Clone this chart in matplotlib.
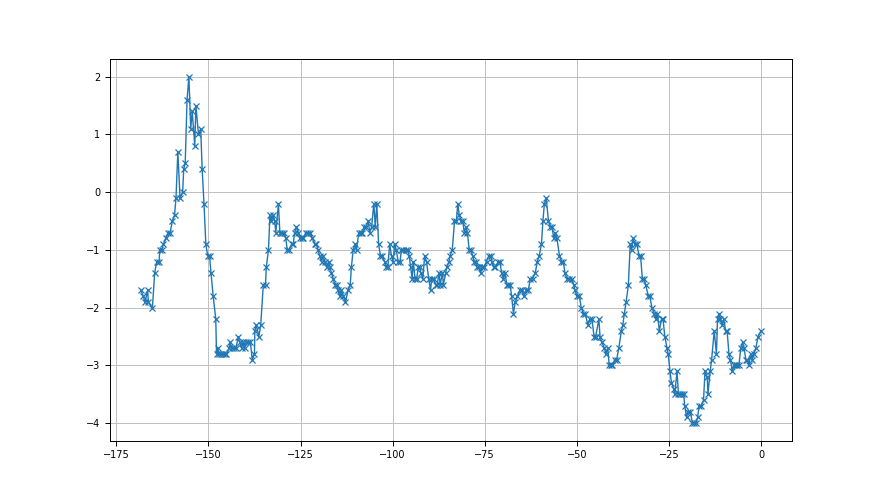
import matplotlib
matplotlib.use("Agg")
import matplotlib.pyplot as plt
import numpy as np

# values
t = [-168.3, -167.7, -167.2, -166.5, -166.3, -165.2, -164.6, -164.0, -163.4, -163.2,
     -162.7, -162.2, -161.6, -160.9, -160.4, -159.8, -159.2, -158.8, -158.3, -157.7,
     -157.0, -156.7, -156.3, -155.8, -155.3, -154.8, -154.4, -153.7, -153.4, -152.7,
     -152.1, -151.7, -151.2, -150.7, -150.2, -149.7, -149.3, -148.7, -148.0, -147.8,
     -147.5, -147.1, -146.6, -146.0, -145.5, -145.1, -144.4, -144.1, -143.7, -143.0,
     -142.5, -141.9, -141.5, -141.0, -140.6, -140.2, -139.7, -139.2, -138.6, -138.1,
     -137.5, -137.4, -137.0, -136.3, -135.8, -135.1, -134.5, -134.3, -133.7, -133.3,
     -132.9, -132.4, -132.0, -131.7, -131.0, -130.6, -130.1, -129.5, -129.0, -128.6,
     -128.1, -127.4, -127.0, -126.6, -126.1, -125.6, -125.2, -124.7, -124.2, -123.6,
     -123.0, -122.3, -121.8, -121.1, -120.7, -120.2, -119.8, -119.3, -118.9, -118.4,
     -117.9, -117.4, -117.0, -116.6, -116.1, -115.7, -115.1, -114.8, -114.3, -113.9,
     -113.4, -112.8, -112.1, -111.5, -111.2, -110.7, -110.2, -109.8, -109.2, -108.7,
     -108.2, -107.7, -107.2, -106.6, -106.2, -105.7, -105.1, -104.7, -104.3, -103.8,
     -103.3, -102.8, -102.2, -101.7, -101.3, -100.8, -100.3, -99.9, -99.4, -99.0,
     -98.5, -98.0, -97.6, -97.1, -96.5, -95.9, -95.5, -95.1, -94.7, -94.4,
     -93.9, -93.5, -93.0, -92.7, -92.3, -91.8, -91.3, -90.8, -90.2, -89.7,
     -89.4, -88.9, -88.3, -87.9, -87.4, -87.1, -86.5, -86.2, -85.6, -85.3,
     -84.7, -84.4, -83.8, -83.2, -82.7, -82.3, -81.9, -81.4, -81.0, -80.5,
     -80.1, -79.7, -79.2, -78.7, -78.3, -77.9, -77.4, -77.0, -76.5, -76.1,
     -75.7, -75.2, -74.5, -73.9, -73.4, -73.0, -72.6, -72.1, -71.3, -70.9,
     -70.4, -69.9, -69.5, -69.0, -68.6, -68.1, -67.7, -67.2, -66.7, -66.1,
     -65.5, -64.9, -64.4, -63.7, -63.2, -62.6, -62.0, -61.3, -60.7, -60.2,
     -59.6, -59.2, -58.8, -58.3, -57.7, -57.2, -56.8, -56.2, -55.9, -55.4,
     -54.7, -54.2, -53.7, -53.2, -52.7, -52.0, -51.4, -50.8, -50.5, -49.9,
     -49.3, -48.8, -48.2, -47.7, -47.0, -46.5, -45.9, -45.3, -44.9, -44.0,
     -43.7, -43.2, -42.5, -42.1, -41.6, -41.2, -40.8, -40.4, -39.7, -39.2,
     -38.6, -37.9, -37.5, -37.1, -36.6, -36.0, -35.5, -35.1, -34.7, -34.2,
     -33.7, -33.1, -32.7, -32.2, -31.8, -31.3, -30.6, -30.2, -29.6, -29.0,
     -28.5, -28.1, -27.6, -27.0, -26.6, -26.1, -25.5, -25.2, -24.7, -24.3,
     -23.7, -23.4, -22.8, -22.4, -21.9, -21.4, -21.0, -20.7, -20.2, -19.9,
     -19.2, -18.6, -18.2, -17.7, -17.2, -16.8, -16.2, -15.6, -15.2, -14.6,
     -14.4, -13.8, -13.4, -12.7, -12.1, -11.8, -11.4, -11.0, -10.5, -10.1,
     -9.6, -9.2, -8.7, -8.3, -7.8, -7.3, -6.9, -6.4, -6.0, -5.5,
     -5.0, -4.6, -4.1, -3.7, -3.3, -2.8, -2.4, -1.9, -1.4, -0.8,
     0.0]

value = [-1.7, -1.8, -1.9, -1.7, -1.9, -2.0, -1.4, -1.2, -1.2, -1.0,
         -1.0, -0.9, -0.8, -0.7, -0.7, -0.5, -0.4, -0.1, 0.7, -0.1,
         0.0, 0.4, 0.5, 1.6, 2.0, 1.1, 1.4, 0.8, 1.5, 1.0,
         1.1, 0.4, -0.2, -0.9, -1.1, -1.1, -1.4, -1.8, -2.2, -2.8,
         -2.7, -2.8, -2.8, -2.8, -2.8, -2.8, -2.7, -2.6, -2.7, -2.7,
         -2.7, -2.5, -2.6, -2.7, -2.6, -2.7, -2.6, -2.6, -2.6, -2.9,
         -2.8, -2.4, -2.3, -2.5, -2.3, -1.6, -1.6, -1.3, -1.0, -0.4,
         -0.5, -0.4, -0.5, -0.7, -0.2, -0.7, -0.7, -0.7, -0.8, -1.0,
         -1.0, -0.9, -0.9, -0.7, -0.6, -0.7, -0.8, -0.8, -0.8, -0.7,
         -0.7, -0.7, -0.8, -0.9, -0.9, -1.0, -1.1, -1.2, -1.1, -1.2,
         -1.3, -1.2, -1.3, -1.4, -1.5, -1.6, -1.6, -1.7, -1.8, -1.7,
         -1.8, -1.9, -1.7, -1.6, -1.3, -1.0, -0.9, -1.0, -0.7, -0.7,
         -0.7, -0.6, -0.6, -0.5, -0.7, -0.6, -0.2, -0.6, -0.2, -0.9,
         -1.1, -1.1, -1.2, -1.3, -1.3, -0.9, -1.1, -1.2, -0.9, -1.0,
         -1.2, -1.2, -1.0, -1.0, -1.0, -1.0, -1.1, -1.3, -1.5, -1.2,
         -1.5, -1.5, -1.3, -1.3, -1.4, -1.5, -1.1, -1.2, -1.5, -1.7,
         -1.5, -1.5, -1.6, -1.6, -1.4, -1.6, -1.4, -1.6, -1.4, -1.3,
         -1.2, -1.1, -1.0, -0.5, -0.5, -0.2, -0.4, -0.5, -0.5, -0.7,
         -0.6, -0.7, -1.0, -1.0, -1.1, -1.2, -1.2, -1.3, -1.3, -1.4,
         -1.3, -1.3, -1.2, -1.1, -1.1, -1.2, -1.3, -1.3, -1.2, -1.2,
         -1.4, -1.5, -1.4, -1.6, -1.6, -1.6, -1.8, -2.1, -1.9, -1.8,
         -1.7, -1.7, -1.8, -1.7, -1.7, -1.5, -1.5, -1.4, -1.2, -1.1,
         -0.9, -0.5, -0.2, -0.1, -0.5, -0.6, -0.6, -0.8, -0.7, -0.8,
         -1.1, -1.2, -1.2, -1.4, -1.5, -1.5, -1.5, -1.6, -1.7, -1.8,
         -1.8, -2.0, -2.1, -2.1, -2.3, -2.2, -2.2, -2.5, -2.5, -2.2,
         -2.5, -2.6, -2.7, -2.8, -2.7, -3.0, -3.0, -3.0, -2.9, -2.9,
         -2.7, -2.4, -2.3, -2.1, -1.9, -1.6, -0.9, -1.0, -0.8, -0.9,
         -0.9, -1.1, -1.1, -1.5, -1.5, -1.6, -1.8, -1.8, -2.0, -2.1,
         -2.2, -2.1, -2.4, -2.2, -2.2, -2.5, -2.7, -2.8, -3.1, -3.3,
         -3.4, -3.5, -3.1, -3.5, -3.5, -3.5, -3.5, -3.7, -3.9, -3.8,
         -3.8, -4.0, -4.0, -4.0, -3.9, -3.7, -3.7, -3.6, -3.1, -3.2,
         -3.5, -3.1, -2.9, -2.4, -2.8, -2.2, -2.1, -2.2, -2.3, -2.2,
         -2.4, -2.4, -2.8, -2.9, -3.1, -3.0, -3.0, -3.0, -3.0, -2.7,
         -2.6, -2.7, -2.9, -2.9, -3.0, -2.8, -2.9, -2.8, -2.7, -2.5,
         -2.4]

fig, ax = plt.subplots(figsize=(8.8, 4.95), dpi=100)
ax.plot(t, value, marker='x', markersize=5, markeredgewidth=0.9,
        linewidth=1.0, color='tab:blue')
ax.set_xticks(np.arange(-175, 1, 25))
ax.grid(True, color='#c0c0c0', linewidth=0.7)
ax.tick_params(labelsize=7, width=0.7)
for s in ax.spines.values():
    s.set_linewidth(0.7)

plt.savefig('out.png', dpi=100)
